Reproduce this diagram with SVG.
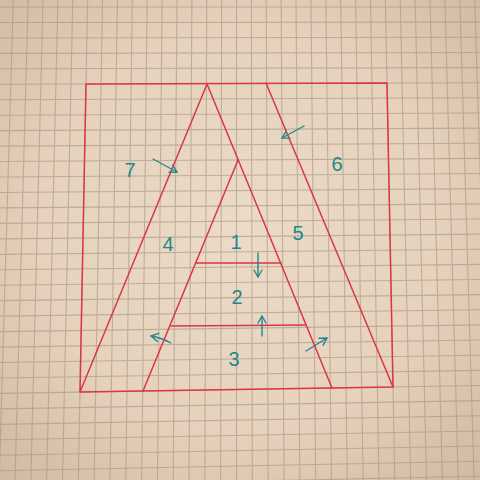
<svg xmlns="http://www.w3.org/2000/svg" width="480" height="480" viewBox="0 0 480 480">
<defs>
<radialGradient id="paper" cx="240" cy="230" r="360" gradientUnits="userSpaceOnUse">
<stop offset="0" stop-color="#ecdbc8"/>
<stop offset="0.55" stop-color="#e6d2bd"/>
<stop offset="1" stop-color="#cfb6a0"/>
</radialGradient>
<marker id="ah" markerWidth="10" markerHeight="10" refX="8" refY="5" orient="auto" markerUnits="userSpaceOnUse">
<path d="M1,1 L8,5 L1,9" fill="none" stroke="#22878a" stroke-width="1.4" stroke-linecap="round" stroke-linejoin="round"/>
</marker>
<style>
.grid{fill:none;stroke:#a39482;stroke-width:1.1;opacity:0.6}
.red{fill:none;stroke:#dc3545;stroke-width:1.5;stroke-linecap:round;stroke-linejoin:round}
.num{font-family:"Liberation Sans",Arial,sans-serif;font-size:20px;fill:#22878a;text-anchor:middle}
.arr{fill:none;stroke:#22878a;stroke-width:1.4;stroke-linecap:round;marker-end:url(#ah)}
</style>
</defs>
<rect width="480" height="480" fill="url(#paper)"/>
<g id="grid" class="grid">
<path d="M-0.5,-39 L-17.7,517 M14.4,-39 L-1.9,517 M29.2,-39 L14,516 M44,-39 L29.9,516 M58.8,-39 L45.8,516 M73.6,-39 L61.7,515 M88.4,-39 L77.6,515 M103.2,-39 L93.5,515 M118,-39 L109.4,514 M132.8,-39 L125.3,514 M147.6,-39 L141.2,514 M162.5,-39 L157.1,514 M177.3,-39 L172.9,513 M192.1,-39 L188.8,513 M206.9,-39 L204.7,513 M221.7,-39 L220.6,512 M236.5,-39 L236.5,512 M251.3,-39 L252.4,512 M266.1,-39 L268.3,511 M280.9,-39 L284.2,511 M295.7,-39 L300.1,511 M310.6,-39 L316,510 M325.4,-39 L331.8,510 M340.2,-39 L347.7,510 M355,-39 L363.6,509 M369.8,-39 L379.5,509 M384.6,-39 L395.4,509 M399.4,-39 L411.3,508 M414.2,-39 L427.2,508 M429,-39 L443.1,508 M443.8,-39 L459,507 M458.7,-39 L474.9,507 M473.5,-39 L490.7,507 M488.3,-39 L506.6,506"/>
<path d="M-35,-8.5 L510,-8.1 M-35,7 L510,7 M-35,22.5 L510,22.1 M-35,38 L510,37.2 M-35,53.4 L510,52.4 M-35,68.9 L510,67.5 M-35,84.4 L510,82.6 M-35,99.9 L510,97.7 M-35,115.4 L510,112.8 M-35,130.8 L510,128 M-35,146.3 L510,143.1 M-35,161.8 L510,158.2 M-35,177.3 L510,173.3 M-35,192.8 L510,188.4 M-35,208.2 L510,203.6 M-35,223.7 L510,218.7 M-35,239.2 L510,233.8 M-35,254.7 L510,248.9 M-35,270.2 L510,264 M-35,285.6 L510,279.2 M-35,301.1 L510,294.3 M-35,316.6 L510,309.4 M-35,332.1 L510,324.5 M-35,347.6 L510,339.6 M-35,363 L510,354.8 M-35,378.5 L510,369.9 M-35,394 L510,385 M-35,409.5 L510,400.1 M-35,425 L510,415.2 M-35,440.4 L510,430.4 M-35,455.9 L510,445.5 M-35,471.4 L510,460.6 M-35,486.9 L510,475.7 M-35,502.4 L510,490.8"/>
</g>
<g id="drawing" class="red">
<path id="frame" d="M86,84 L387,83 L393,387 L80,392 Z"/>
<path id="a-left" d="M207,84 L80,392"/>
<path id="a-right" d="M207,84 L332,388"/>
<path id="inner-left" d="M238,160 L143,391"/>
<path id="outer-right" d="M266,83 L393,387"/>
<path id="bar-1" d="M196,263 L281,263"/>
<path id="bar-2" d="M171,326 L306,325"/>
</g>
<g id="labels">
<text class="num" x="130" y="177" font-size="26">7</text>
<text class="num" x="337" y="171">6</text>
<text class="num" x="168" y="251">4</text>
<text class="num" x="236" y="249">1</text>
<text class="num" x="298" y="240">5</text>
<text class="num" x="237" y="304">2</text>
<text class="num" x="234" y="366">3</text>
</g>
<g id="connectors">
<path class="arr" d="M153,159 L177,172"/>
<path class="arr" d="M304,126 L282,138"/>
<path class="arr" d="M258,253 L258,277"/>
<path class="arr" d="M262,336 L262,316"/>
<path class="arr" d="M171,343 Q162,338 151,336"/>
<path class="arr" d="M306,351 L327,338"/>
</g>
</svg>
